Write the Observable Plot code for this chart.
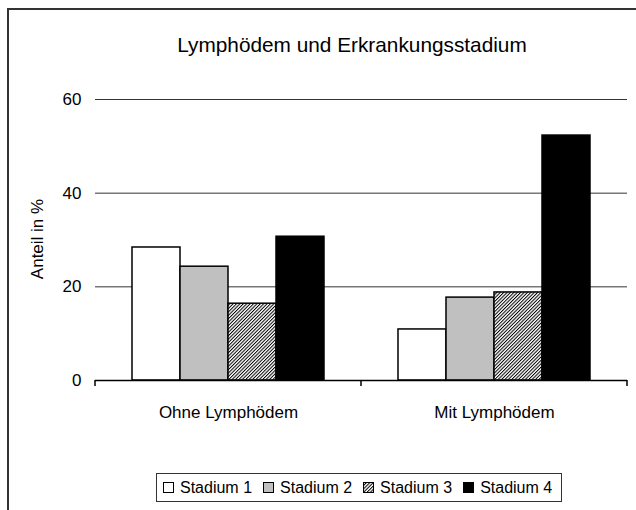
<!DOCTYPE html>
<html>
<head>
<meta charset="utf-8">
<script src="https://cdn.jsdelivr.net/npm/d3@7"></script>
<script src="https://cdn.jsdelivr.net/npm/@observablehq/plot@0.6"></script>
<style>
html, body { margin: 0; padding: 0; background: #fff; width: 636px; height: 510px; overflow: hidden;
  font-family: "Liberation Sans", Arial, sans-serif; color: #000; }
#wrap { position: relative; width: 636px; height: 510px; overflow: hidden; }
#frame { position: absolute; left: 7px; top: 8px; width: 700px; height: 600px;
  border-left: 2px solid #333; border-top: 2px solid #333; }
#chart { position: absolute; left: 0; top: 0; }
#title { position: absolute; left: 152px; width: 400px; top: 34px; text-align: center;
  font-size: 20.8px; line-height: 21px; white-space: nowrap; }
#ylabel { position: absolute; left: 37px; top: 239px; transform: translate(-50%, -50%) rotate(-90deg);
  font-size: 17px; line-height: 17px; white-space: nowrap; }
#legend { position: absolute; left: 156px; top: 473px; width: 406px; height: 29px; box-sizing: border-box;
  border: 1px solid #333; display: flex; align-items: center; padding-left: 6px; font-size: 16px; }
#legend .item { display: flex; align-items: center; margin-right: 11px; white-space: nowrap; }
#legend svg { margin-right: 6px; }
</style>
</head>
<body>
<div id="wrap">
  <div id="frame"></div>
  <div id="chart"></div>
  <div id="title"></div>
  <div id="ylabel"></div>
  <div id="legend"></div>
</div>
<script>
const titleText = "Lymphödem und Erkrankungsstadium";
const yLabel = "Anteil in %";
const categories = ["Ohne Lymphödem", "Mit Lymphödem"];
const stages = ["Stadium 1", "Stadium 2", "Stadium 3", "Stadium 4"];
const ohneValues = [28.4, 24.3, 16.4, 30.7];
const mitValues = [10.9, 17.7, 18.8, 52.3];
const yTicks = [0, 20, 40, 60];
const stageFills = ["#ffffff", "#c0c0c0", "url(#hatch)", "#000000"];

const seriesByCategory = [ohneValues, mitValues];
const data = [];
categories.forEach((c, i) => {
  stages.forEach((s, j) => data.push({category: c, stage: s, value: seriesByCategory[i][j]}));
});

const plot = Plot.plot({
  width: 636,
  height: 460,
  marginLeft: 95,
  marginRight: 9,
  marginTop: 99,
  marginBottom: 80,
  style: {fontFamily: "'Liberation Sans', Arial, sans-serif", fontSize: "17px", color: "#000", background: "transparent", overflow: "visible"},
  fx: {domain: categories, paddingInner: 0, paddingOuter: 0, label: null, axis: "bottom", tickSize: 0, tickPadding: 25},
  x: {domain: stages, axis: null, paddingInner: 0, paddingOuter: 0.72},
  y: {domain: [0, 60], ticks: yTicks, tickSize: 0, tickPadding: 14, label: null},
  color: {domain: stages, range: stageFills},
  marks: [
    Plot.ruleY(yTicks.filter(d => d > 0), {stroke: "#333", strokeWidth: 1}),
    Plot.barY(data, {fx: "category", x: "stage", y: "value", fill: "stage", stroke: "#000", strokeWidth: 1.5}),
    Plot.ruleY([0], {stroke: "#000", strokeWidth: 1.5})
  ]
});

// hatch pattern definition (fine diagonal lines)
const svg = d3.select(plot);
const defs = svg.insert("defs", ":first-child");
const pat = defs.append("pattern").attr("id", "hatch").attr("patternUnits", "userSpaceOnUse")
  .attr("width", 2.4).attr("height", 2.4).attr("patternTransform", "rotate(45)");
pat.append("rect").attr("width", 2.4).attr("height", 2.4).attr("fill", "#fff");
pat.append("rect").attr("width", 1.0).attr("height", 2.4).attr("fill", "#000");

// category boundary ticks on the category axis
const fx = plot.scale("fx");
const y = plot.scale("y");
const bounds = categories.map(c => fx.apply(c));
bounds.push(fx.apply(categories[categories.length - 1]) + fx.bandwidth);
const y0 = y.apply(0);
svg.append("g").selectAll("line").data(bounds).join("line")
  .attr("x1", d => d).attr("x2", d => d).attr("y1", y0).attr("y2", y0 + 6)
  .attr("stroke", "#000").attr("stroke-width", 1.5);

document.getElementById("chart").appendChild(plot);
document.getElementById("title").textContent = titleText;
document.getElementById("ylabel").textContent = yLabel;

// legend from the plot's color scale
const color = plot.scale("color");
const legend = d3.select("#legend");
color.domain.forEach((s, i) => {
  const item = legend.append("span").attr("class", "item");
  const sw = item.append("svg").attr("width", 11).attr("height", 11);
  sw.append("rect").attr("x", 0.5).attr("y", 0.5).attr("width", 10).attr("height", 10)
    .attr("fill", color.range[i]).attr("stroke", "#000").attr("stroke-width", 1);
  item.append("span").text(s);
});
</script>
</body>
</html>
